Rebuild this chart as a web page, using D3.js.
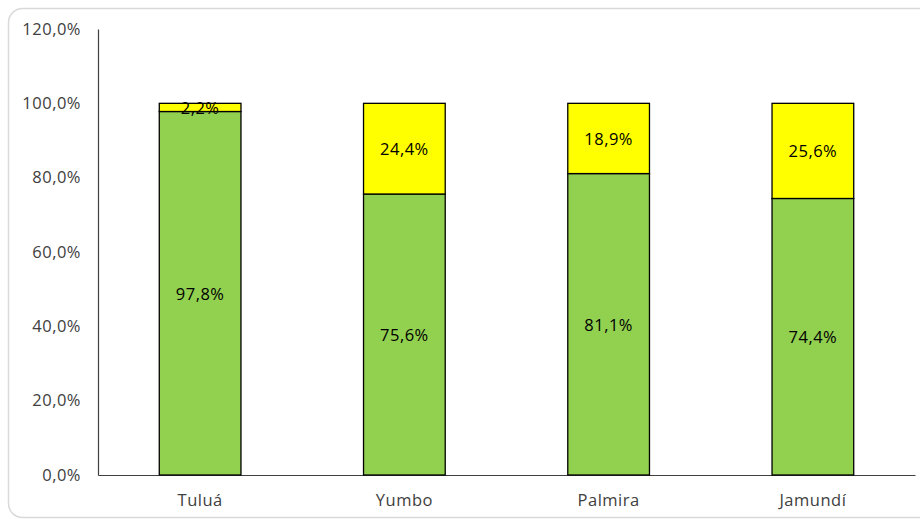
<!DOCTYPE html>
<html><head><meta charset="utf-8">
<script src="https://cdn.jsdelivr.net/npm/d3@7"></script>
<style>body{margin:0;background:#fff;} text{font-family:"Open Sans","Liberation Sans",sans-serif;letter-spacing:0.5px;}</style>
</head><body>
<svg id="c" width="920" height="519"></svg>
<script>
const categories = ["Tuluá","Yumbo","Palmira","Jamundí"];
const greenValues = [97.8, 75.6, 81.1, 74.4];
const yellowValues = [2.2, 24.4, 18.9, 25.6];
const yTicks = [0,20,40,60,80,100,120];

const svg = d3.select("#c");
svg.append("rect").attr("x",8.5).attr("y",8.5).attr("width",930).attr("height",509)
  .attr("rx",14).attr("fill","#fff").attr("stroke","#d9d9d9").attr("stroke-width",1.5);

const x = d3.scaleBand().domain(categories).range([98,915]).paddingInner(0.6).paddingOuter(0.3);
const y = d3.scaleLinear().domain([0,120]).range([475,29]);
const fmt = v => v.toFixed(1).replace(".",",") + "%";
const fs = 16.5;

const yAxis = svg.append("g").attr("transform","translate(98,0)")
  .call(d3.axisLeft(y).tickValues(yTicks).tickSize(0).tickPadding(17).tickFormat(fmt));
yAxis.select(".domain").attr("stroke","#404040").attr("stroke-width",1.2);
yAxis.selectAll("text").attr("font-size",fs).attr("fill","#404040");

const xAxis = svg.append("g").attr("transform","translate(0,475)")
  .call(d3.axisBottom(x).tickSize(0).tickPadding(19));
xAxis.select(".domain").attr("stroke","#404040").attr("stroke-width",1.2);
xAxis.selectAll("text").attr("font-size",fs).attr("fill","#404040");

const data = categories.map((c,i)=>({c, g:greenValues[i], yv:yellowValues[i]}));
const g = svg.append("g");
g.selectAll(".g").data(data).enter().append("rect")
  .attr("x",d=>x(d.c)).attr("width",x.bandwidth())
  .attr("y",d=>y(d.g)).attr("height",d=>y(0)-y(d.g))
  .attr("fill","#92D050").attr("stroke","#000").attr("stroke-width",1.3);
g.selectAll(".yl").data(data).enter().append("rect")
  .attr("x",d=>x(d.c)).attr("width",x.bandwidth())
  .attr("y",d=>y(d.g+d.yv)).attr("height",d=>y(d.g)-y(d.g+d.yv))
  .attr("fill","#FFFF00").attr("stroke","#000").attr("stroke-width",1.3);

g.selectAll(".lg").data(data).enter().append("text")
  .attr("x",d=>x(d.c)+x.bandwidth()/2).attr("y",d=>y(d.g/2))
  .attr("text-anchor","middle").attr("dominant-baseline","central")
  .attr("font-size",fs).attr("fill","#000").text(d=>fmt(d.g));
g.selectAll(".ly").data(data).enter().append("text")
  .attr("x",d=>x(d.c)+x.bandwidth()/2).attr("y",d=>y(d.g+d.yv/2))
  .attr("text-anchor","middle").attr("dominant-baseline","central")
  .attr("font-size",fs).attr("fill","#000").text(d=>fmt(d.yv));
</script>
</body></html>
